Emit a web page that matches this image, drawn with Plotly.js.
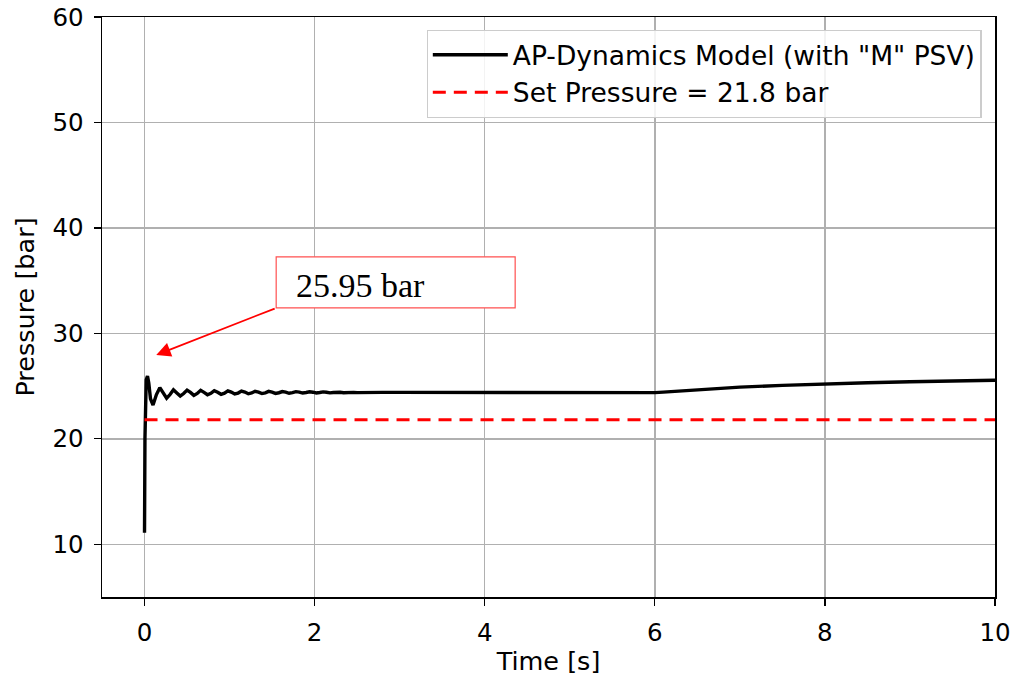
<!DOCTYPE html>
<html>
<head>
<meta charset="utf-8">
<script src="https://cdn.plot.ly/plotly-3.0.1.min.js"></script>
<style>html,body{margin:0;padding:0;background:#fff;}#chart{width:1015px;height:678px;}</style>
</head>
<body>
<div id="chart"></div>
<script>
// Model pressure trace
const timeS = [0, 0.005, 0.02, 0.035, 0.05, 0.07, 0.10, 0.14, 0.18, 0.22, 0.26, 0.30, 0.34, 0.38, 0.42, 0.46, 0.50, 0.54, 0.58, 0.62, 0.66, 0.70, 0.74, 0.78, 0.82, 0.86, 0.90, 0.94, 0.98, 1.02, 1.06, 1.10, 1.14, 1.18, 1.22, 1.26, 1.30, 1.34, 1.38, 1.42, 1.46, 1.50, 1.54, 1.58, 1.62, 1.66, 1.70, 1.74, 1.78, 1.82, 1.86, 1.90, 1.94, 1.98, 2.02, 2.06, 2.10, 2.14, 2.18, 2.22, 2.26, 2.30, 2.34, 2.38, 2.42, 2.46, 2.50, 2.60, 2.70, 2.80, 3.0, 3.5, 4.0, 5.0, 6.0, 6.1, 6.5, 7.0, 7.5, 8.0, 8.5, 9.0, 9.5, 10.0];
const pressureBar = [11.1, 20.0, 25.6, 25.95, 25.3, 23.8, 23.2, 24.2, 24.85, 24.4, 23.85, 24.2, 24.65, 24.35, 24.05, 24.3, 24.62, 24.4, 24.12, 24.3, 24.6, 24.4, 24.18, 24.32, 24.57, 24.42, 24.22, 24.33, 24.55, 24.43, 24.25, 24.34, 24.53, 24.43, 24.27, 24.35, 24.51, 24.43, 24.29, 24.36, 24.5, 24.43, 24.31, 24.37, 24.48, 24.43, 24.32, 24.38, 24.47, 24.43, 24.34, 24.39, 24.46, 24.42, 24.35, 24.39, 24.45, 24.42, 24.36, 24.39, 24.44, 24.41, 24.37, 24.39, 24.43, 24.4, 24.38, 24.41, 24.39, 24.40, 24.40, 24.39, 24.39, 24.38, 24.38, 24.43, 24.65, 24.9, 25.07, 25.22, 25.32, 25.41, 25.49, 25.56];
// Set pressure reference line
const setTime = [0, 10];
const setPressure = [21.8, 21.8];
// Labels
const modelName = 'AP-Dynamics Model (with "M" PSV)';
const setName = 'Set Pressure = 21.8 bar';
const peakLabel = '25.95 bar';
const xTicks = [0, 2, 4, 6, 8, 10];
const yTicks = [10, 20, 30, 40, 50, 60];

const traces = [
  {x: timeS, y: pressureBar, mode: 'lines', name: modelName,
   line: {color: '#000000', width: 3.4}},
  {x: setTime, y: setPressure, mode: 'lines', name: setName,
   line: {color: '#ff0000', width: 3, dash: '13px,8px'}}
];

const axisCommon = {
  showline: true, linecolor: '#000', linewidth: 1.5, mirror: true,
  ticks: 'outside', ticklen: 7, tickwidth: 1.2, tickcolor: '#000',
  showgrid: true, gridcolor: '#b0b0b0', gridwidth: 1.5,
  zeroline: false,
  tickfont: {family: 'DejaVu Sans', size: 24.5, color: '#000'}
};
const titleFont = {family: 'DejaVu Sans', size: 25.5, color: '#000'};

const layout = {
  width: 1015, height: 678,
  margin: {l: 102, r: 20, t: 17, b: 81},
  paper_bgcolor: '#fff', plot_bgcolor: '#fff',
  showlegend: true,
  legend: {x: 0.985, xanchor: 'right', y: 0.978, yanchor: 'top',
    bgcolor: 'rgba(255,255,255,0.85)', bordercolor: '#cccccc', borderwidth: 1.2,
    itemwidth: 75,
    font: {family: 'DejaVu Sans', size: 26.5, color: '#000'}, tracegroupgap: 0},
  xaxis: Object.assign({}, axisCommon, {range: [-0.5, 10], tickvals: xTicks,
    ticklabelstandoff: 6,
    title: {text: 'Time [s]', font: titleFont, standoff: 6}}),
  yaxis: Object.assign({}, axisCommon, {range: [5, 60], tickvals: yTicks,
    ticklabelstandoff: 5,
    title: {text: 'Pressure [bar]', font: titleFont, standoff: 10}}),
  shapes: [
    {type: 'rect', xref: 'x', yref: 'y', x0: 1.548, x1: 4.358, y0: 32.41, y1: 37.26,
     line: {color: '#ff5050', width: 1.2}, fillcolor: '#ffffff', layer: 'above'}
  ],
  annotations: [
    {xref: 'x', yref: 'y', x: 0.138, y: 27.95, axref: 'x', ayref: 'y', ax: 1.548, ay: 32.41,
     text: '', showarrow: true, arrowhead: 2, arrowsize: 1.6, arrowwidth: 1.8, arrowcolor: '#ff0000'},
    {xref: 'x', yref: 'y', x: 1.76, y: 34.55, xanchor: 'left', yanchor: 'middle',
     text: peakLabel, showarrow: false,
     font: {family: 'Liberation Serif', size: 34, color: '#000'}}
  ]
};

Plotly.newPlot('chart', traces, layout, {staticPlot: true, displayModeBar: false});
</script>
</body>
</html>
